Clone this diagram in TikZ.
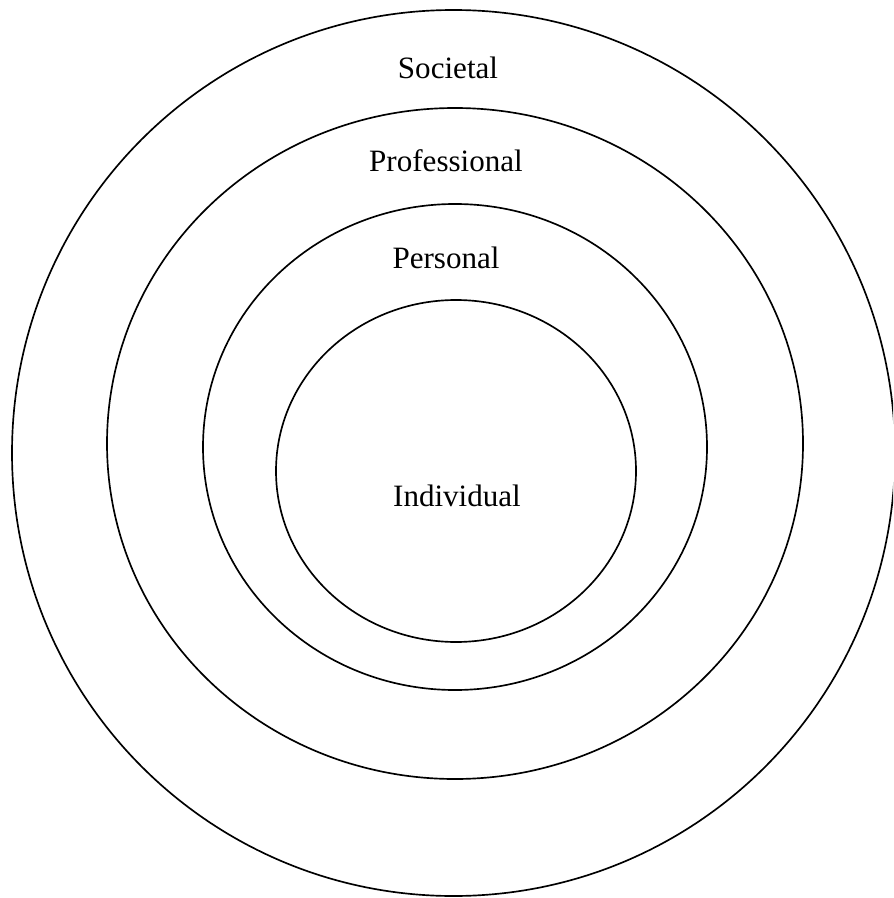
\documentclass[tikz,border=0pt]{standalone}
\usepackage{fontspec}
\setmainfont{Liberation Serif}
\begin{document}
\begin{tikzpicture}[x=0.75pt,y=-0.75pt,
  ring/.style={draw=black,line width=1.25pt},
  lbl/.style={font=\fontsize{23.3}{28}\selectfont,inner sep=0pt}]
\useasboundingbox (0,0) rectangle (893,898);
\clip (0,0) rectangle (893,898);
% concentric rings
\draw[ring] (453.5,453) ellipse [x radius=441.5, y radius=443];
\draw[ring] (455,443.5) ellipse [x radius=348, y radius=335.5];
\draw[ring] (455,447) ellipse [x radius=252, y radius=243];
\draw[ring] (456,471) ellipse [x radius=180, y radius=171];
% labels
\node[lbl] (societal) at (448,68) {Societal};
\node[lbl] (professional) at (446,161) {Professional};
\node[lbl] (personal) at (446,258) {Personal};
\node[lbl] (individual) at (457,496) {Individual};
\end{tikzpicture}
\end{document}
